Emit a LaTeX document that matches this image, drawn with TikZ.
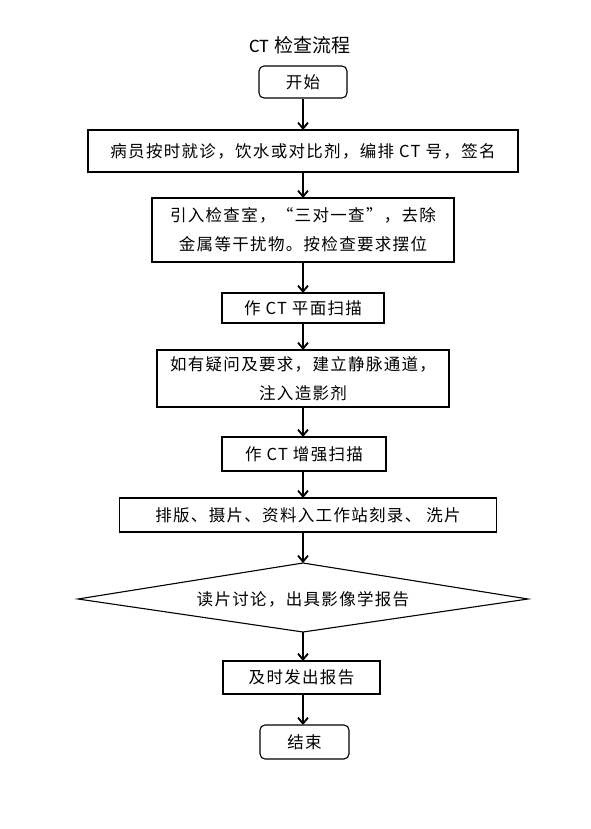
\documentclass[tikz,border=0pt]{standalone}
\usepackage{fontspec}
\newfontfamily\cjk[LetterSpace=8]{Noto Sans CJK SC}
\newfontfamily\titlefont{Carlito}
\newfontfamily\titlecjk{Noto Sans CJK SC}
\usetikzlibrary{arrows.meta}
\begin{document}
\begin{tikzpicture}[x=1pt,y=-1pt,
  box/.style={draw, line width=1.1pt, inner sep=0pt, font=\cjk\fontsize{16.5}{29}\selectfont, align=center},
  term/.style={box, rounded corners=5pt},
  arr/.style={line width=1.8pt, -{Straight Barb[length=6pt,width=10pt,line width=1.8pt]}}]
\useasboundingbox (0,0) rectangle (590,829);
\node (title) at (300,45) {\titlefont\fontsize{19}{22}\selectfont CT\hspace{6pt}\titlecjk 检查流程};
\node[term, minimum width=88pt, minimum height=32pt] (start) at (303,82) {开始};
\node[box, minimum width=430pt, minimum height=42pt] (b1) at (303,151) {病员按时就诊，饮水或对比剂，编排 CT 号，签名};
\node[box, minimum width=302pt, minimum height=64pt] (b2) at (303,230) {引入检查室，“三对一查”，去除\\金属等干扰物。按检查要求摆位};
\node[box, minimum width=162pt, minimum height=30pt] (b3) at (303,308) {作 CT 平面扫描};
\node[box, minimum width=292pt, minimum height=57pt] (b4) at (303,378.5) {如有疑问及要求，建立静脉通道，\\注入造影剂};
\node[box, minimum width=164pt, minimum height=34pt] (b5) at (304,454) {作 CT 增强扫描};
\node[box, minimum width=377pt, minimum height=34pt] (b6) at (308,515) {排版、摄片、资料入工作站刻录、 洗片};
\coordinate (dt) at (303,563);
\coordinate (dl) at (78,599);
\coordinate (dr) at (528,599);
\coordinate (db) at (303,632);
\draw[line width=1.1pt] (dt) -- (dr) -- (db) -- (dl) -- cycle;
\node[font=\cjk\fontsize{16.5}{29}\selectfont] (d) at (303,599) {读片讨论，出具影像学报告};
\node[box, minimum width=157pt, minimum height=33pt] (b7) at (301.5,677.5) {及时发出报告};
\node[term, minimum width=89pt, minimum height=34pt] (end) at (304.5,742) {结束};
\draw[arr] (start.south -| 303,0) -- (303,130);
\draw[arr] (303,172) -- (303,198);
\draw[arr] (303,262) -- (303,293);
\draw[arr] (303,323) -- (303,350);
\draw[arr] (303,407) -- (303,437);
\draw[arr] (303,471) -- (303,498);
\draw[arr] (303,532) -- (dt);
\draw[arr] (db) -- (303,661);
\draw[arr] (303,694) -- (303,725);
\end{tikzpicture}
\end{document}
